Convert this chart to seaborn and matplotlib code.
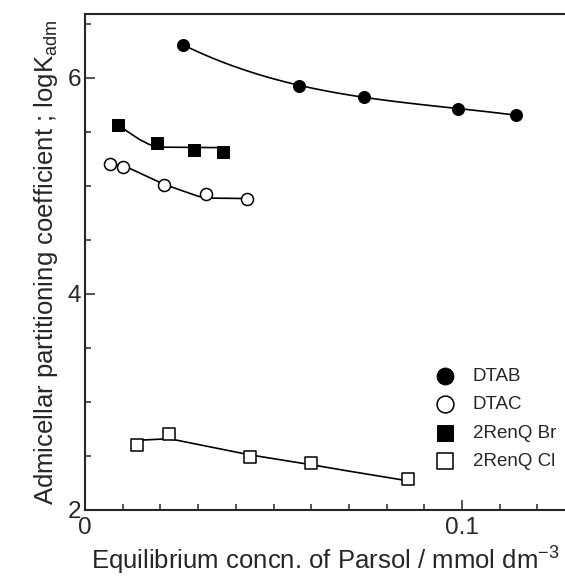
import numpy as np
import pandas as pd
import matplotlib
matplotlib.use("Agg")
import matplotlib.pyplot as plt
import seaborn as sns
from matplotlib.ticker import MultipleLocator

sns.set_style("ticks")
plt.rcParams['font.family'] = ['Liberation Sans', 'DejaVu Sans']
plt.rcParams['mathtext.fontset'] = 'custom'
plt.rcParams['mathtext.rm'] = 'Liberation Sans'
plt.rcParams['mathtext.it'] = 'Liberation Sans'

# measured points
dtab_x = [0.0261, 0.0568, 0.0740, 0.0990, 0.1143]
dtab_y = [6.306, 5.929, 5.827, 5.713, 5.657]

dtac_x = [0.0065, 0.0102, 0.0210, 0.0320, 0.0429]
dtac_y = [5.201, 5.179, 5.006, 4.923, 4.877]

br_x = [0.0087, 0.0192, 0.0289, 0.0367]
br_y = [5.565, 5.395, 5.333, 5.312]

cl_x = [0.0137, 0.0224, 0.0438, 0.0599, 0.0857]
cl_y = [2.602, 2.704, 2.494, 2.438, 2.287]

# guide curves (knots)
dtab_end = 0.1158
dtac_cx = [0.0065, 0.0102, 0.0210, 0.0300, 0.0330, 0.0429]
dtac_cy = [5.205, 5.190, 5.015, 4.905, 4.888, 4.884]
br_cx = [0.0087, 0.0119, 0.0145, 0.0170, 0.0195, 0.0367]
br_cy = [5.565, 5.490, 5.430, 5.385, 5.360, 5.355]
cl_cx = [0.0137, 0.0224, 0.0438, 0.0599, 0.0700, 0.0857]
cl_cy = [2.645, 2.660, 2.510, 2.420, 2.360, 2.270]

fig = plt.figure(figsize=(5.65, 5.78), dpi=100)
ax = fig.add_axes([85/565, 68/578, 480/565, 496/578])

# DTAB curve: smooth cubic through the points
coef = np.polyfit(dtab_x, dtab_y, 3)
xs = np.linspace(dtab_x[0], dtab_end, 100)
sns.lineplot(x=xs, y=np.polyval(coef, xs), ax=ax, color='black', lw=1.2)
for cx, cy in [(dtac_cx, dtac_cy), (br_cx, br_cy), (cl_cx, cl_cy)]:
    sns.lineplot(x=cx, y=cy, ax=ax, color='black', lw=1.2, sort=False)

ms = 75
sns.scatterplot(x=dtab_x, y=dtab_y, ax=ax, marker='o', s=ms, color='black',
                edgecolor='black', label='DTAB', zorder=3)
sns.scatterplot(x=dtac_x, y=dtac_y, ax=ax, marker='o', s=ms, facecolor='white',
                edgecolor='black', linewidth=1.1, label='DTAC', zorder=3)
sns.scatterplot(x=br_x, y=br_y, ax=ax, marker='s', s=ms, color='black',
                edgecolor='black', label='2RenQ Br', zorder=3)
sns.scatterplot(x=cl_x, y=cl_y, ax=ax, marker='s', s=ms, facecolor='white',
                edgecolor='black', linewidth=1.1, label='2RenQ Cl', zorder=3)

ax.set_xlim(0, 480/3770)
ax.set_ylim(2, 2 + 496/108)
ax.xaxis.set_major_locator(MultipleLocator(0.1))
ax.xaxis.set_minor_locator(MultipleLocator(0.01))
ax.yaxis.set_major_locator(MultipleLocator(2))
ax.yaxis.set_minor_locator(MultipleLocator(0.5))
ax.xaxis.set_major_formatter(plt.FuncFormatter(lambda v, p: '0' if v == 0 else f'{v:g}'))

ax.tick_params(which='both', direction='in', labelsize=17.5, width=1.1)
ax.tick_params(which='major', length=7)
ax.tick_params(which='minor', length=4)
ax.tick_params(axis='x', pad=5)
ax.tick_params(axis='y', pad=3)

for s in ['left', 'bottom', 'top']:
    ax.spines[s].set_linewidth(1.5)
ax.spines['right'].set_visible(False)

ax.set_xlabel('Equilibrium concn. of Parsol / mmol dm$^{-3}$', fontsize=18.5, labelpad=4)
ax.set_ylabel('Admicellar partitioning coefficient ; logK$_{\\mathrm{adm}}$', fontsize=18.5, labelpad=5)

leg = ax.legend(loc='upper left', bbox_to_anchor=(0.695, 0.302), frameon=False,
                fontsize=13.5, markerscale=1.4, handletextpad=0.5, labelspacing=0.6,
                borderaxespad=0)

plt.savefig('out.png', dpi=100)
